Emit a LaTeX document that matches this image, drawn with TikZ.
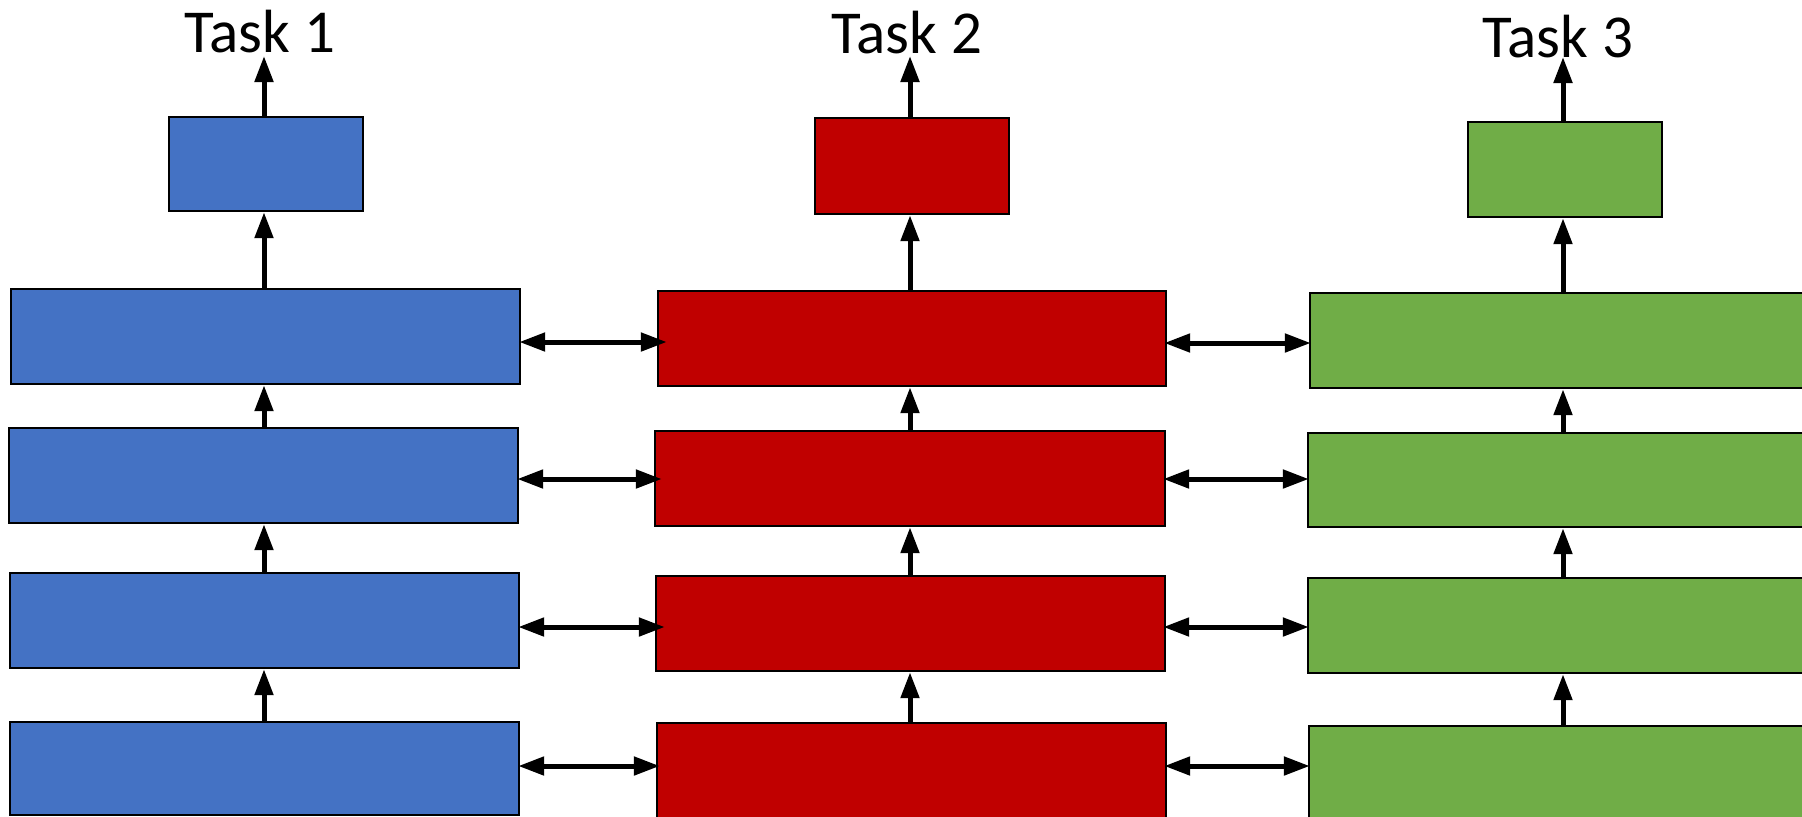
\documentclass[tikz,border=0pt]{standalone}
\usepackage{fontspec}
\setmainfont{Carlito}
\usetikzlibrary{arrows.meta,fit}
\definecolor{tblue}{HTML}{4472C4}
\definecolor{tred}{HTML}{C00000}
\definecolor{tgreen}{HTML}{70AD47}
\tikzset{
  boxb/.style={draw=black, line width=1.2pt, inner sep=0pt, fill=tblue},
  boxr/.style={draw=black, line width=1.2pt, inner sep=0pt, fill=tred},
  boxg/.style={draw=black, line width=1.2pt, inner sep=0pt, fill=tgreen},
  uparr/.style={line width=2.5pt, -{Triangle[length=13pt,width=9pt]}},
  dblarr/.style={line width=2.5pt, {Triangle[length=13pt,width=9pt]}-{Triangle[length=13pt,width=9pt]}},
  tasklabel/.style={font=\fontsize{30.5}{36}\selectfont, anchor=base, inner sep=0pt}
}
\begin{document}
\begin{tikzpicture}[x=0.5pt,y=-0.5pt]
\useasboundingbox (0,0) rectangle (1802,816);
\clip (0,0) rectangle (1802,816);
% column centre lines
\coordinate (cb) at (264,0);
\coordinate (cr) at (910,0);
\coordinate (cg) at (1563,0);
% row arrow heights
\coordinate (h1) at (0,342);
\coordinate (h1b) at (0,343);
\coordinate (h2) at (0,479);
\coordinate (h3) at (0,627);
\coordinate (h4) at (0,766);
% blue column
\node[boxb, fit={(169,117) (363,211)}] (bt) {};
\node[boxb, fit={(11,289) (520,384)}] (b1) {};
\node[boxb, fit={(9,428) (518,523)}] (b2) {};
\node[boxb, fit={(10,573) (519,668)}] (b3) {};
\node[boxb, fit={(10,722) (519,815)}] (b4) {};
% red column
\node[boxr, fit={(815,118) (1009,214)}] (rt) {};
\node[boxr, fit={(658,291) (1166,386)}] (r1) {};
\node[boxr, fit={(655,431) (1165,526)}] (r2) {};
\node[boxr, fit={(656,576) (1165,671)}] (r3) {};
\node[boxr, fit={(657,723) (1166,822)}] (r4) {};
% green column
\node[boxg, fit={(1468,122) (1662,217)}] (gt) {};
\node[boxg, fit={(1310,293) (1840,388)}] (g1) {};
\node[boxg, fit={(1308,433) (1840,527)}] (g2) {};
\node[boxg, fit={(1308,578) (1840,673)}] (g3) {};
\node[boxg, fit={(1309,726) (1840,824)}] (g4) {};
% task labels
\node[tasklabel] (t1) at (260,52) {Task 1};
\node[tasklabel] (t2) at (907,53) {Task 2};
\node[tasklabel] (t3) at (1558,57) {Task 3};
\coordinate (a1) at (264,56);
\coordinate (a2) at (910,56);
\coordinate (a3) at (1563,57);
% vertical arrows blue
\draw[uparr] (b4.north -| cb) -- (b3.south -| cb);
\draw[uparr] (b3.north -| cb) -- (b2.south -| cb);
\draw[uparr] (b2.north -| cb) -- (b1.south -| cb);
\draw[uparr] (b1.north -| cb) -- (bt.south -| cb);
\draw[uparr] (bt.north -| cb) -- (a1);
% vertical arrows red
\draw[uparr] (r4.north -| cr) -- (r3.south -| cr);
\draw[uparr] (r3.north -| cr) -- (r2.south -| cr);
\draw[uparr] (r2.north -| cr) -- (r1.south -| cr);
\draw[uparr] (r1.north -| cr) -- (rt.south -| cr);
\draw[uparr] (rt.north -| cr) -- (a2);
% vertical arrows green
\draw[uparr] (g4.north -| cg) -- (g3.south -| cg);
\draw[uparr] (g3.north -| cg) -- (g2.south -| cg);
\draw[uparr] (g2.north -| cg) -- (g1.south -| cg);
\draw[uparr] (g1.north -| cg) -- (gt.south -| cg);
\draw[uparr] (gt.north -| cg) -- (a3);
% horizontal double arrows blue-red
\draw[dblarr, shorten <=-1pt, shorten >=-5pt] (b1.east |- h1) -- (r1.west |- h1);
\draw[dblarr, shorten <=-1pt, shorten >=-4pt] (b2.east |- h2) -- (r2.west |- h2);
\draw[dblarr, shorten <=-1pt, shorten >=-5pt] (b3.east |- h3) -- (r3.west |- h3);
\draw[dblarr, shorten <=-1pt, shorten >=-2pt] (b4.east |- h4) -- (r4.west |- h4);
% horizontal double arrows red-green
\draw[dblarr, shorten <=-1.5pt, shorten >=-1pt] (r1.east |- h1b) -- (g1.west |- h1b);
\draw[dblarr, shorten <=-1.5pt, shorten >=-1pt] (r2.east |- h2) -- (g2.west |- h2);
\draw[dblarr, shorten <=-1.5pt, shorten >=-1pt] (r3.east |- h3) -- (g3.west |- h3);
\draw[dblarr, shorten <=-1.5pt, shorten >=-1pt] (r4.east |- h4) -- (g4.west |- h4);
\end{tikzpicture}
\end{document}
